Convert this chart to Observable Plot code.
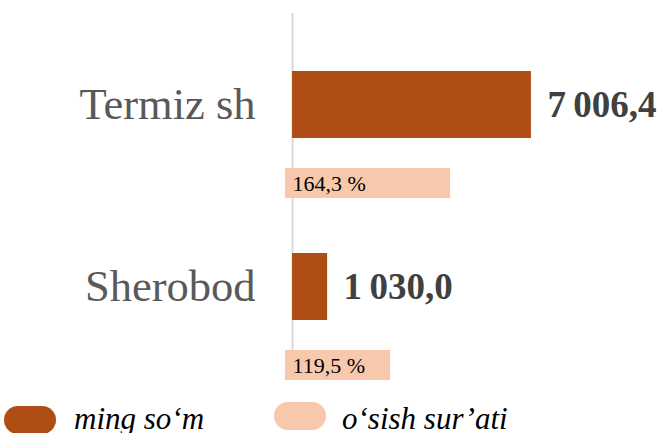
<!DOCTYPE html>
<html>
<head>
<meta charset="utf-8">
<script src="https://cdn.jsdelivr.net/npm/d3@7"></script>
<script src="https://cdn.jsdelivr.net/npm/@observablehq/plot@0.6"></script>
<style>
  html, body { margin: 0; padding: 0; background: #fff; overflow: hidden; }
  #wrap { position: relative; width: 661px; height: 433px; font-family: "Liberation Serif", "Times New Roman", Times, Tinos, serif; }
  .sw { position: absolute; width: 52px; height: 28px; border-radius: 14px; }
  .lt { position: absolute; font-style: italic; font-size: 31px; color: #000; line-height: 1; white-space: nowrap; }
</style>
</head>
<body>
<div id="wrap"></div>
<script>
const categories = ["Termiz sh", "Sherobod"];
const amounts = [7006.4, 1030.0];          // ming so‘m
const growth = [164.3, 119.5];            // o‘sish sur’ati, %
const seriesNames = ["ming so‘m", "o‘sish sur’ati"];
const colors = ["#ae4e14", "#f8c8ad"];

const data = categories.map((c, i) => ({category: c, amount: amounts[i], growth: growth[i]}));

const loc = d3.formatLocale({decimal: ",", thousands: "\u2009", grouping: [3], currency: ["", ""]});
const fmt = loc.format(",.1f");
const fmtPct = d => loc.format(".1f")(d) + " %";

// secondary (percent) axis mapped onto the primary x scale: min 41 %
const secMin = 41;
const toPrimary = p => (p - secMin) * 39.27 - 205;

const FONT = '"Liberation Serif", "Times New Roman", Times, Tinos, serif';

const chart = Plot.plot({
  width: 661,
  height: 390,
  marginLeft: 292,
  marginRight: 28,
  marginTop: 13,
  marginBottom: 12,
  x: {domain: [0, 10000], axis: null},
  y: {domain: categories, padding: 0, axis: null},
  style: {fontFamily: FONT, background: "white", overflow: "visible"},
  marks: [
    Plot.ruleX([0], {stroke: "#d9d9d9", strokeWidth: 2}),
    Plot.barX(data, {x1: () => toPrimary(secMin), x2: d => toPrimary(d.growth), y: "category", dy: 78, insetTop: 76, insetBottom: 76, fill: colors[1]}),
    Plot.barX(data, {x: "amount", y: "category", fill: colors[0], insetTop: 57, insetBottom: 58}),
    Plot.text(data, {x: 0, y: "category", dy: 78, text: d => fmtPct(d.growth), textAnchor: "start", dx: 0, fontSize: 22, fill: "#000"}),
    Plot.text(data, {x: "amount", y: "category", text: d => fmt(d.amount), textAnchor: "start", dx: 16, fontSize: 37, fontWeight: "bold", fill: "#404040"}),
    Plot.axisY({tickSize: 0, tickPadding: 37, fontSize: 44.5, color: "#595959", label: null, dy: -1})
  ]
});

const wrap = document.getElementById("wrap");
wrap.appendChild(chart);

const legend = [
  {name: seriesNames[0], color: colors[0], sx: 4, sy: 406, tx: 74},
  {name: seriesNames[1], color: colors[1], sx: 274, sy: 402, tx: 342}
];
legend.forEach(l => {
  const s = document.createElement("div");
  s.className = "sw";
  s.style.left = l.sx + "px";
  s.style.top = l.sy + "px";
  s.style.background = l.color;
  wrap.appendChild(s);
  const t = document.createElement("div");
  t.className = "lt";
  t.style.left = l.tx + "px";
  t.style.top = "403px";
  t.textContent = l.name;
  wrap.appendChild(t);
});
</script>
</body>
</html>
